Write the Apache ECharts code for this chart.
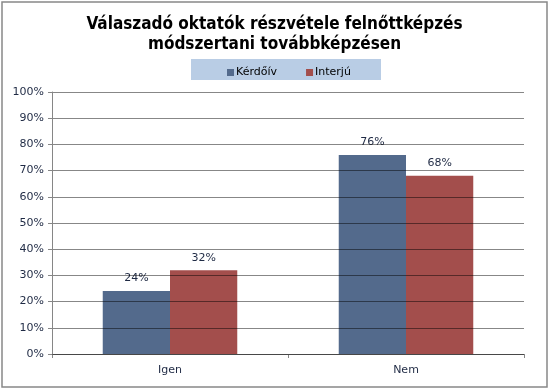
<!DOCTYPE html>
<html><head><meta charset="utf-8">
<script src="https://cdn.jsdelivr.net/npm/echarts@6/dist/echarts.min.js"></script>
<style>html,body{margin:0;padding:0;background:#fff}#c{width:549px;height:389px}</style>
</head><body><div id="c"></div>
<script>
const categories = ['Igen', 'Nem'];
const kerdoiv = [24, 76];
const interju = [32, 68];
const seriesNames = ['Kérdőív', 'Interjú'];
const titleText = 'Válaszadó oktatók részvétele felnőttképzés\nmódszertani továbbképzésen';

const chart = echarts.init(document.getElementById('c'));
const font = 'DejaVu Sans, Verdana, sans-serif';
chart.setOption({
  animation: false,
  backgroundColor: '#fff',
  title: {
    text: titleText, left: 'center', top: 10,
    textStyle: {fontFamily: '"DejaVu Sans Condensed", "Liberation Sans", sans-serif', fontSize: 17, fontWeight: 'bold', color: '#000', lineHeight: 20}
  },
  graphic: [
    {type: 'rect', shape: {x: 2, y: 2, width: 545, height: 385}, style: {fill: 'none', stroke: '#888', lineWidth: 1.5}, z: -1},
    {type: 'rect', shape: {x: 191, y: 59, width: 190, height: 21}, style: {fill: '#B9CDE5'}, z: -1}
  ],
  legend: {
    left: 222, top: 62, itemWidth: 7, itemHeight: 7, itemGap: 29,
    icon: 'rect', data: seriesNames,
    textStyle: {fontFamily: font, fontSize: 11, color: '#000', padding: [0, 0, 0, -3]}
  },
  grid: {left: 52, right: 25, top: 92, bottom: 35},
  xAxis: {
    type: 'category', data: categories,
    axisLine: {lineStyle: {color: '#868686'}},
    axisTick: {show: true, length: 4, lineStyle: {color: '#868686'}},
    axisLabel: {fontFamily: font, fontSize: 11, color: '#1F2A44', margin: 11}
  },
  yAxis: {
    type: 'value', min: 0, max: 100, interval: 10, z: 5,
    axisLine: {show: true, lineStyle: {color: '#868686'}},
    axisTick: {show: true, length: 4, lineStyle: {color: '#868686'}},
    splitLine: {lineStyle: {color: 'rgba(0,0,0,0.47)'}},
    axisLabel: {fontFamily: font, fontSize: 11, color: '#1F2A44', margin: 8, formatter: '{value}%'}
  },
  series: [
    {name: seriesNames[0], type: 'bar', data: kerdoiv, barGap: '0%', barCategoryGap: '43%',
     itemStyle: {color: '#536A8C'},
     label: {show: true, position: 'top', distance: 7, formatter: '{c}%', fontFamily: font, fontSize: 11, color: '#1F2A44'}},
    {name: seriesNames[1], type: 'bar', data: interju,
     itemStyle: {color: '#A34E4C'},
     label: {show: true, position: 'top', distance: 7, formatter: '{c}%', fontFamily: font, fontSize: 11, color: '#1F2A44'}}
  ]
});
</script></body></html>
